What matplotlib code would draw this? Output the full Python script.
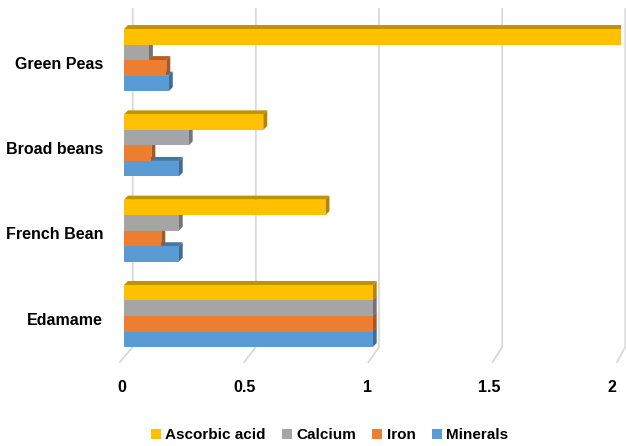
import matplotlib
matplotlib.use("Agg")
import matplotlib.pyplot as plt
from matplotlib.patches import Polygon, Patch
from matplotlib.lines import Line2D
from matplotlib.transforms import IdentityTransform
from matplotlib import colors as mcolors

# Relative nutrient content per bean (Edamame = 1)
categories = ["Edamame", "French Bean", "Broad beans", "Green Peas"]
series_names = ["Minerals", "Iron", "Calcium", "Ascorbic acid"]
minerals = [1.0, 0.22, 0.22, 0.18]
iron = [1.0, 0.15, 0.11, 0.17]
calcium = [1.0, 0.22, 0.26, 0.10]
ascorbic = [1.0, 0.81, 0.56, 2.0]
x_ticks = [0, 0.5, 1, 1.5, 2]
tick_labels = ["0", "0.5", "1", "1.5", "2"]

series_values = [minerals, iron, calcium, ascorbic]
series_colors = ["#5B9BD5", "#ED7D31", "#A5A5A5", "#FFC000"]

FONT = ["Liberation Sans Narrow", "Liberation Sans", "DejaVu Sans"]
plt.rcParams["font.family"] = FONT
plt.rcParams["font.weight"] = "bold"
FS = 11.5

W, H, DPI = 626, 446, 100
fig = plt.figure(figsize=(W / DPI, H / DPI), dpi=DPI)
fig.patch.set_facecolor("white")
ax = fig.add_axes([124 / W, 84 / H, 497.4 / W, 353 / H])
ax.set_xlim(0, 2)
ax.set_ylim(-0.539, 3.599)
ax.axis("off")


def shade(c, f):
    r, g, b = mcolors.to_rgb(c)
    return (r * f, g * f, b * f)


# depth of the extruded bars, in pixels -> data units
DEPTH_PX = 4.0
p0 = ax.transData.transform((0, 0))
p1 = ax.transData.transform((1, 1))
px_per_x = p1[0] - p0[0]
px_per_y = p1[1] - p0[1]
ddx = DEPTH_PX / px_per_x
ddy = DEPTH_PX / px_per_y

h = 0.182  # bar thickness
for i, (vals, col) in enumerate(zip(series_values, series_colors)):
    for k, v in enumerate(vals):
        yc = k + (i - 1.5) * h
        yb, yt = yc - h / 2, yc + h / 2
        top = Polygon([(0, yt), (v, yt), (v + ddx, yt + ddy), (ddx, yt + ddy)],
                      closed=True, facecolor=shade(col, 0.76), edgecolor="none",
                      zorder=2 + i)
        side = Polygon([(v, yb), (v + ddx, yb + ddy), (v + ddx, yt + ddy), (v, yt)],
                       closed=True, facecolor=shade(col, 0.7), edgecolor="none",
                       zorder=2 + i)
        ax.add_patch(top)
        ax.add_patch(side)
    ax.barh([k + (i - 1.5) * h for k in range(len(vals))], vals, height=h,
            color=col, edgecolor="none", zorder=2.5 + i)

# back-wall gridlines folding onto the floor
top_y = H - 9
floor_back_y = H - 347
floor_front_y = H - 362
for v in x_ticks:
    fx = ax.transData.transform((v, 0))[0]
    bx = fx + 8.7 - 2.4 * v
    ffx = fx - 4.0 - 0.2 * v
    ln = Line2D([bx, bx, ffx], [top_y, floor_back_y, floor_front_y],
                transform=IdentityTransform(), color="#D9D9D9", lw=1.3,
                zorder=0.5, clip_on=False)
    ax.add_line(ln)

# x tick labels
for v, lab in zip(x_ticks, tick_labels):
    fx = ax.transData.transform((v, 0))[0]
    fig.text(fx - 2 - 3.7 * v, H - 387, lab, transform=IdentityTransform(),
             ha="center", va="center", fontsize=FS, fontweight="bold", color="#000000")

# category labels
for k, name in enumerate(categories):
    yd = ax.transData.transform((0, k))[1]
    fig.text(103, yd - 4, name, transform=IdentityTransform(), ha="right",
             va="center", fontsize=FS, fontweight="bold", color="#000000")

handles = [Patch(facecolor=c, edgecolor="none", label=n)
           for n, c in zip(series_names[::-1], series_colors[::-1])]
fig.legend(handles=handles, ncol=4, loc="center", bbox_to_anchor=(329.5 / W, 11 / H),
           frameon=False, handlelength=0.65, handleheight=0.65,
           handletextpad=0.3, columnspacing=1.05, borderaxespad=0,
           prop={"weight": "bold", "size": 11})

fig.savefig("out.png", dpi=DPI, facecolor="white")
